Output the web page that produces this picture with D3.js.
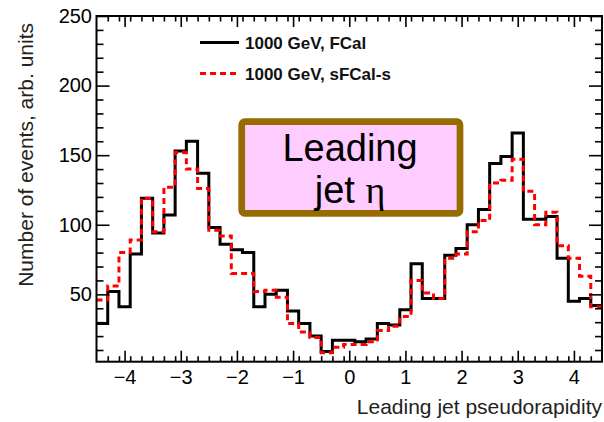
<!DOCTYPE html>
<html>
<head>
<meta charset="utf-8">
<script src="https://cdn.jsdelivr.net/npm/d3@7"></script>
<style>
  html, body { margin: 0; padding: 0; background: #fff; }
  svg { display: block; font-family: "Liberation Sans", Arial, Helvetica, sans-serif; }
</style>
</head>
<body>
<svg id="chart" width="604" height="422"></svg>
<script>
// Leading-jet pseudorapidity, 45 bins of width 0.2 between -4.5 and 4.5
const etaRange = [-4.5, 4.5];
const fcal = [29, 52, 41, 79, 119, 94, 107, 153, 160, 137, 98, 86, 82, 80, 41,
              50, 53, 38, 29, 20, 9, 17, 17, 16, 18, 29, 28, 39, 72, 47,
              47, 78, 83, 100, 111, 144, 149, 166, 104, 104, 106, 76, 45, 47, 42];
const sfcal = [46, 56, 80, 89, 119, 95, 127, 152, 140, 126, 96, 92, 65, 65, 52,
               53, 48, 29, 23, 19, 8, 12, 14, 14, 16, 24, 27, 34, 60, 51,
               47, 76, 79, 95, 103, 130, 132, 147, 124, 100, 109, 85, 76, 63, 41];
const seriesNames = ["1000 GeV, FCal", "1000 GeV, sFCal-s"];
const xMajorTicks = [-4, -3, -2, -1, 0, 1, 2, 3, 4];
const yMajorTicks = [50, 100, 150, 200, 250];
const yRange = [1.6, 250];
const xTitle = "Leading jet pseudorapidity";
const yTitle = "Number of events, arb. units";

const svg = d3.select("#chart");
const frame = { left: 96.5, right: 602, top: 16, bottom: 361.7 };

const x = d3.scaleLinear().domain(etaRange).range([frame.left, frame.right]);
const y = d3.scaleLinear().domain(yRange).range([frame.bottom, frame.top]);

const nBins = fcal.length;
const binW = (etaRange[1] - etaRange[0]) / nBins;
const xMinorTicks = d3.range(1, nBins).map(i => etaRange[0] + i * binW)
  .filter(v => Math.abs(v - Math.round(v)) > 1e-6);
const yMinorTicks = d3.range(10, 250, 10).filter(v => v % 50 !== 0);

svg.append("defs").append("clipPath").attr("id", "plotClip")
  .append("rect")
  .attr("x", frame.left).attr("y", frame.top)
  .attr("width", frame.right - frame.left).attr("height", frame.bottom - frame.top);

// step outline of a histogram
function stepPoints(vals) {
  const pts = vals.map((v, i) => [etaRange[0] + i * binW, v]);
  pts.push([etaRange[1], vals[vals.length - 1]]);
  return pts;
}
const stepLine = d3.line()
  .x(d => x(d[0])).y(d => y(d[1]))
  .curve(d3.curveStepAfter);

const plot = svg.append("g").attr("clip-path", "url(#plotClip)");
plot.append("path")
  .attr("d", stepLine(stepPoints(fcal)))
  .attr("fill", "none").attr("stroke", "#000").attr("stroke-width", 3);
plot.append("path")
  .attr("d", stepLine(stepPoints(sfcal)))
  .attr("fill", "none").attr("stroke", "#ff0000").attr("stroke-width", 3)
  .attr("stroke-dasharray", "6,4");

// axes with inward ticks on all four sides
const fmt = v => (v < 0 ? "\u2212" + Math.abs(v) : String(v));
const tickStyle = g => {
  g.select(".domain").remove();
  g.selectAll(".tick line").attr("stroke", "#000").attr("stroke-width", 1.6);
  g.selectAll(".tick text").attr("fill", "#000").attr("font-size", 20)
    .attr("font-family", "Liberation Sans, Arial, sans-serif");
};

svg.append("g").attr("transform", `translate(0,${frame.bottom})`)
  .call(d3.axisBottom(x).tickValues(xMajorTicks).tickSize(-11).tickPadding(4).tickFormat(fmt))
  .call(tickStyle)
  .selectAll(".tick text").attr("dy", "1.1em").attr("y", 0);
svg.append("g").attr("transform", `translate(0,${frame.bottom})`)
  .call(d3.axisBottom(x).tickValues(xMinorTicks).tickSize(-5.5).tickFormat(""))
  .call(tickStyle);
svg.append("g").attr("transform", `translate(0,${frame.top})`)
  .call(d3.axisTop(x).tickValues(xMajorTicks).tickSize(-11).tickFormat(""))
  .call(tickStyle);
svg.append("g").attr("transform", `translate(0,${frame.top})`)
  .call(d3.axisTop(x).tickValues(xMinorTicks).tickSize(-5.5).tickFormat(""))
  .call(tickStyle);

svg.append("g").attr("transform", `translate(${frame.left},0)`)
  .call(d3.axisLeft(y).tickValues(yMajorTicks).tickSize(-13).tickPadding(5).tickFormat(fmt))
  .call(tickStyle)
  .selectAll(".tick text").attr("x", -4.5);
svg.append("g").attr("transform", `translate(${frame.left},0)`)
  .call(d3.axisLeft(y).tickValues(yMinorTicks).tickSize(-7).tickFormat(""))
  .call(tickStyle);
svg.append("g").attr("transform", `translate(${frame.right},0)`)
  .call(d3.axisRight(y).tickValues(yMajorTicks).tickSize(-13).tickFormat(""))
  .call(tickStyle);
svg.append("g").attr("transform", `translate(${frame.right},0)`)
  .call(d3.axisRight(y).tickValues(yMinorTicks).tickSize(-7).tickFormat(""))
  .call(tickStyle);

// frame
svg.append("rect")
  .attr("x", frame.left).attr("y", frame.top)
  .attr("width", frame.right - frame.left).attr("height", frame.bottom - frame.top)
  .attr("fill", "none").attr("stroke", "#000").attr("stroke-width", 2);

// axis titles
svg.append("text")
  .attr("x", frame.right).attr("y", 413.5)
  .attr("text-anchor", "end").attr("font-size", 21).attr("fill", "#222")
  .text(xTitle);
svg.append("text")
  .attr("transform", "translate(33,23) rotate(-90)")
  .attr("text-anchor", "end").attr("font-size", 21).attr("fill", "#222")
  .text(yTitle);

// legend
const legend = svg.append("g");
const legendRows = [
  { name: seriesNames[0], color: "#000", dash: null, y: 42.5 },
  { name: seriesNames[1], color: "#ff0000", dash: "6,4", y: 73.5 }
];
legendRows.forEach(r => {
  legend.append("line")
    .attr("x1", 200).attr("x2", 239).attr("y1", r.y).attr("y2", r.y)
    .attr("stroke", r.color).attr("stroke-width", 3)
    .attr("stroke-dasharray", r.dash);
  legend.append("text")
    .attr("x", 245).attr("y", r.y + 6)
    .attr("font-size", 17).attr("font-weight", "bold").attr("fill", "#111")
    .text(r.name);
});

// annotation box
const box = svg.append("g");
box.append("rect")
  .attr("x", 241.7).attr("y", 121.7).attr("width", 218.3).attr("height", 91.6)
  .attr("rx", 3)
  .attr("fill", "#ffccff").attr("stroke", "#966c00").attr("stroke-width", 6.7);
box.append("text")
  .attr("x", 350).attr("y", 161).attr("text-anchor", "middle")
  .attr("font-size", 38).attr("fill", "#000")
  .text("Leading");
const t2 = box.append("text")
  .attr("x", 350).attr("y", 203).attr("text-anchor", "middle")
  .attr("font-size", 38).attr("fill", "#000");
t2.append("tspan").text("jet ");
t2.append("tspan").attr("font-family", "Liberation Serif, DejaVu Serif, serif").text("\u03b7");
</script>
</body>
</html>
